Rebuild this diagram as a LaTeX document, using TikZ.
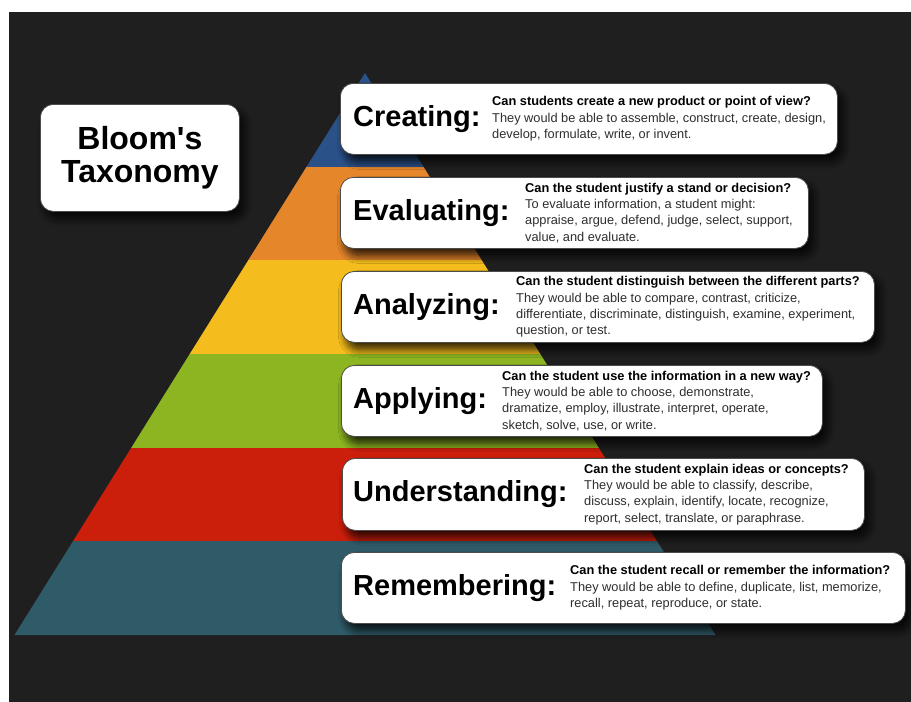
\documentclass[tikz,border=0pt]{standalone}
\usepackage{fontspec}
\setmainfont{Liberation Sans}
\usetikzlibrary{positioning,shadows.blur}

\definecolor{backdrop}{HTML}{1F1F1F}
\definecolor{tierBlue}{HTML}{2B5189}
\definecolor{tierOrange}{HTML}{E5862B}
\definecolor{tierYellow}{HTML}{F4BC1C}
\definecolor{tierGreen}{HTML}{8CB521}
\definecolor{tierRed}{HTML}{CB1E0B}
\definecolor{tierTeal}{HTML}{2F5B68}
\definecolor{blurbGray}{HTML}{2E2E2E}

\tikzset{
	card/.style={fill=white, draw=black!70, line width=.8pt, rounded corners=13pt, anchor=north west,
		blur shadow={shadow xshift=5pt, shadow yshift=-7pt, shadow blur radius=8pt, shadow blur steps=12, shadow opacity=85}},
	headline/.style={inner sep=0pt, anchor=west, font=\fontsize{29}{34}\selectfont\bfseries},
	blurb/.style={inner sep=0pt, anchor=west, align=left, text=blurbGray, font=\fontsize{12.8}{16.3}\selectfont}
}
\newcommand{\ask}[1]{{\bfseries\color{black}#1}}

\begin{document}
\begin{tikzpicture}[x=1pt,y=-1pt]
			\fill [white] (0,0) rectangle (911,702);
			\fill [backdrop] (9,12) rectangle (911,702);
			
			% pyramid, top tier first
			\fill [tierBlue] (365,73) -- (423.6,167) -- (306.4,167) -- cycle;
			\fill [tierOrange] (306.4,167) -- (423.6,167) -- (481.6,260) -- (248.4,260) -- cycle;
			\fill [tierYellow] (248.4,260) -- (481.6,260) -- (540.3,354) -- (189.7,354) -- cycle;
			\fill [tierGreen] (189.7,354) -- (540.3,354) -- (598.9,448) -- (131.1,448) -- cycle;
			\fill [tierRed] (131.1,448) -- (598.9,448) -- (656.9,541) -- (73.1,541) -- cycle;
			\fill [tierTeal] (73.1,541) -- (656.9,541) -- (715.5,635) -- (14.5,635) -- cycle;
			
			\node [card, minimum width=199pt, minimum height=107pt, align=center, font=\fontsize{32}{32.5}\selectfont\bfseries] (bloom) at (40,104) {Bloom\textquotesingle s\\Taxonomy};
			
			\node [card, minimum width=497pt, minimum height=71pt] (creating) at (340,83) {};
			\node [headline] (creatingHead) at ([xshift=13pt]creating.west) {Creating:};
			\node [blurb] (creatingText) at ([xshift=152pt]creating.west) {\ask{Can students create a new product or point of view?}\\They would be able to assemble, construct, create, design,\\develop, formulate, write, or invent.};
			
			\node [card, minimum width=468pt, minimum height=71pt] (evaluating) at (340,177) {};
			\node [headline] (evaluatingHead) at ([xshift=13pt]evaluating.west) {Evaluating:};
			\node [blurb] (evaluatingText) at ([xshift=185pt]evaluating.west) {\ask{Can the student justify a stand or decision?}\\To evaluate information, a student might:\\appraise, argue, defend, judge, select, support,\\value, and evaluate.};
			
			\node [card, minimum width=533pt, minimum height=71pt] (analyzing) at (341,271) {};
			\node [headline] (analyzingHead) at ([xshift=12pt]analyzing.west) {Analyzing:};
			\node [blurb] (analyzingText) at ([xshift=175pt]analyzing.west) {\ask{Can the student distinguish between the different parts?}\\They would be able to compare, contrast, criticize,\\differentiate, discriminate, distinguish, examine, experiment,\\question, or test.};
			
			\node [card, minimum width=481pt, minimum height=71pt] (applying) at (341,365) {};
			\node [headline] (applyingHead) at ([xshift=12pt]applying.west) {Applying:};
			\node [blurb] (applyingText) at ([xshift=161pt]applying.west) {\ask{Can the student use the information in a new way?}\\They would be able to choose, demonstrate,\\dramatize, employ, illustrate, interpret, operate,\\sketch, solve, use, or write.};
			
			\node [card, minimum width=522pt, minimum height=72pt] (understanding) at (342,458) {};
			\node [headline] (understandingHead) at ([xshift=11pt]understanding.west) {Understanding:};
			\node [blurb] (understandingText) at ([xshift=242pt]understanding.west) {\ask{Can the student explain ideas or concepts?}\\They would be able to classify, describe,\\discuss, explain, identify, locate, recognize,\\report, select, translate, or paraphrase.};
			
			\node [card, minimum width=564pt, minimum height=71pt] (remembering) at (341,552) {};
			\node [headline] (rememberingHead) at ([xshift=12pt]remembering.west) {Remembering:};
			\node [blurb] (rememberingText) at ([xshift=229pt]remembering.west) {\ask{Can the student recall or remember the information?}\\They would be able to define, duplicate, list, memorize,\\recall, repeat, reproduce, or state.};
		\end{tikzpicture}
\end{document}
